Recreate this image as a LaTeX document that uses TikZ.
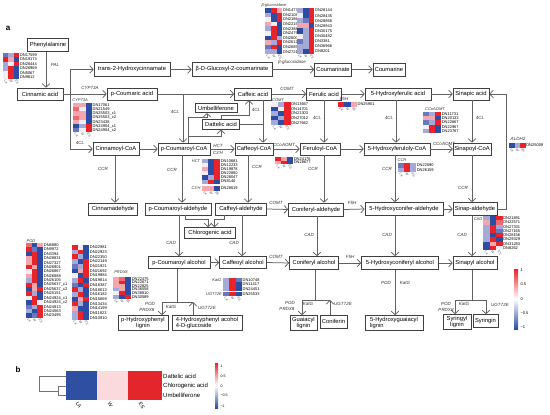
\documentclass[tikz,border=0pt]{standalone}
\usepackage{fontspec}
\setmainfont{Liberation Sans}
\usetikzlibrary{arrows.meta}
\definecolor{hR}{HTML}{E8232A}
\definecolor{hm}{HTML}{EC6A70}
\definecolor{hr}{HTML}{F3A7AC}
\definecolor{hw}{HTML}{F2EEF4}
\definecolor{hb}{HTML}{A3AAD8}
\definecolor{hn}{HTML}{6A78BF}
\definecolor{hB}{HTML}{2D4CA3}
\definecolor{bLA}{HTML}{2F4FA2}
\definecolor{bW}{HTML}{FADADD}
\definecolor{bES}{HTML}{E3262B}
\newcommand\hmap[6]{%
  \foreach [count=\i] \hA/\hBB/\hC/\hL in {#6} {%
    \fill[fill=h\hA] ({#2},{#3+(\i-1)*#5}) rectangle ++(#4,#5);
    \fill[fill=h\hBB] ({#2+#4},{#3+(\i-1)*#5}) rectangle ++(#4,#5);
    \fill[fill=h\hC] ({#2+2*#4},{#3+(\i-1)*#5}) rectangle ++(#4,#5);
    \node[dnlab] (#1-\i) at ({#2+3*#4+0.6},{#3+(\i-0.5)*#5}) {\hL};
  }%
}
\newcommand\hcols[4]{%
  \foreach \t [count=\j] in {LA,W,ES} {\node[collab] (#1-\t) at ({#2+(\j-0.5)*#4-0.8},{#3+0.8}) {\t};}%
}
\begin{document}
\begin{tikzpicture}[x=1pt,y=-1pt,
  box/.style={draw=black!75,line width=0.6pt,fill=white,font=\fontsize{5.8}{6.3}\selectfont,inner xsep=1.2pt,inner ysep=1pt,minimum height=12pt},
  arr/.style={draw=black!62,line width=0.75pt,-{Straight Barb[length=3.5pt,width=7.5pt]}},
  ln/.style={draw=black!62,line width=0.75pt},
  enz/.style={font=\fontsize{4.5}{5}\selectfont\itshape,text=black!80,inner sep=0.3pt},
  dnlab/.style={font=\fontsize{4}{4}\selectfont,anchor=west,inner sep=0pt},
  collab/.style={font=\fontsize{3.2}{3.2}\selectfont\itshape,rotate=-60,anchor=west,inner sep=0pt,text=black!70},
  cbl/.style={font=\fontsize{4}{4}\selectfont,anchor=west,inner sep=0.3pt},
]
\useasboundingbox[fill=white] (0,0) rectangle (550,415);
\node[font=\bfseries\fontsize{8}{8}\selectfont] (la) at (8,28) {a};

% ---------- boxes ----------
\node[box,minimum width=41pt,minimum height=13pt] (phe) at (48,45) {Phenylalanine};
\node[box,minimum width=46pt] (cin) at (40,94) {Cinnamic acid};
\node[box,minimum width=76pt,minimum height=14pt] (t2h) at (132,69.5) {trans-2-Hydroxycinnamate};
\node[box,minimum width=80pt,minimum height=14pt] (bdg) at (232,69.5) {β-D-Glucosyl-2-coumarinate};
\node[box,minimum width=37pt,minimum height=13pt] (cmt) at (333,69.5) {Coumarinate};
\node[box,minimum width=32pt,minimum height=13pt] (cmr) at (389,69.5) {Coumarine};

\node[box,minimum width=50pt] (pca) at (132,94) {p-Coumaric acid};
\node[box,minimum width=37pt] (caf) at (253,94) {Caffeic acid};
\node[box,minimum width=35pt] (fer) at (324,94) {Ferulic acid};
\node[box,minimum width=66pt] (hfa) at (398,94) {5-Hydroxyferulic acid};
\node[box,minimum width=36pt] (sia) at (471,94) {Sinapic acid};

\node[box,minimum width=42pt,minimum height=9.5pt] (umb) at (216,108) {Umbelliferone};
\node[box,minimum width=37pt,minimum height=9.5pt] (daf) at (221,124.5) {Dattelic acid};

\node[box,minimum width=46pt,minimum height=13pt] (ccoa) at (116,149) {Cinnamoyl-CoA};
\node[box,minimum width=52pt] (pcoa) at (184,149) {p-Coumaroyl-CoA};
\node[box,minimum width=38pt] (cfcoa) at (254,149) {Caffeoyl-CoA};
\node[box,minimum width=40pt] (frcoa) at (320,149) {Feruloyl-CoA};
\node[box,minimum width=66pt] (hfcoa) at (397,149) {5-Hydroxyferuloly-CoA};
\node[box,minimum width=32pt] (spcoa) at (472,149) {Sinapoyl-CoA};

\node[box,minimum width=49pt] (cald) at (113,209) {Cinnamadehyde};
\node[box,minimum width=66pt] (pcald) at (178,209) {p-Coumaroyl-aldehyde};
\node[box,minimum width=51pt] (cfald) at (241,209) {Caffeyl-aldehyde};
\node[box,minimum width=55pt,minimum height=13pt] (cnald) at (316,209.5) {Coniferyl-aldehyde};
\node[box,minimum width=78pt,minimum height=13pt] (hcald) at (404,209) {5-Hydroxyconifer-aldehyde};
\node[box,minimum width=44pt,minimum height=13pt] (spald) at (475,209) {Sinap-aldehyde};

\node[box,minimum width=51pt,minimum height=11pt] (chl) at (210,233) {Chlorogenic acid};

\node[box,minimum width=62pt] (pcal) at (179,262.5) {p-Coumaroyl alcohol};
\node[box,minimum width=47pt] (cfal) at (243,262.5) {Caffeoyl alcohol};
\node[box,minimum width=49pt,minimum height=13pt] (cnal) at (314,263) {Coniferyl alcohol};
\node[box,minimum width=77pt,minimum height=13pt] (hcal) at (400,263) {5-Hydroxyconiferyl alcohol};
\node[box,minimum width=44pt,minimum height=13pt] (spal) at (475,263) {Sinapyl alcohol};

\node[box,minimum width=50pt,minimum height=15pt,align=center,font=\fontsize{5.8}{5.6}\selectfont] (phl) at (143,323) {p-Hydroxyphenyl\\lignin};
\node[box,minimum width=70pt,minimum height=15pt,align=left,font=\fontsize{5.8}{5.6}\selectfont] (hpg) at (207,323) {4-Hydroxyphenyl acohol\\4-D-glucoside};
\node[box,minimum width=27pt,minimum height=15pt,align=center,font=\fontsize{5.8}{5.6}\selectfont] (gul) at (303.5,323) {Guaiacyl\\lignin};
\node[box,minimum width=27pt,minimum height=13pt] (cnf) at (333.5,321.5) {Coniferin};
\node[box,minimum width=58pt,minimum height=15pt,align=left,font=\fontsize{5.8}{5.6}\selectfont] (hgl) at (394,323) {5-Hydroxyguaiacyl\\lignin};
\node[box,minimum width=28pt,minimum height=15pt,align=center,font=\fontsize{5.8}{5.6}\selectfont] (syl) at (457,322) {Syringyl\\lignin};
\node[box,minimum width=25pt,minimum height=13pt] (syr) at (485.5,321) {Syringin};

% ---------- connectors ----------
\draw[arr] (46,0 |- phe.south) -- (46,0 |- cin.north);
\draw[arr] (cin.east) -- (pca.west);
\coordinate (j1) at (70,0 |- cin.east);
\draw[arr] (j1) |- (t2h.west);
\draw[arr] (j1) |- (ccoa.west);
\draw[arr] (t2h.east) -- (bdg.west);
\draw[arr] (bdg.east) -- (cmt.west);
\draw[arr] (cmt.east) -- (cmr.west);
\draw[arr] (pca.east) -- (caf.west);
\draw[arr] (183,0 |- pca.east) -- (183,0 |- pcoa.north);
\draw[arr] (caf.east) -- (fer.west);
\draw[arr] (fer.east) -- (hfa.west);
\draw[arr] (hfa.east) -- (sia.west);
\draw[arr] (spald.east) -- ++(9,0) |- (sia.east);
% umbelliferone / dattelic acid
\draw[arr] (188,0 |- pcoa.north) |- (207,117) -- (207,0 |- umb.south);
\draw[arr] (188,136) -| (221,0 |- daf.south);
\draw[arr] (221,0 |- daf.north) |- (249,115.5) -- (249,0 |- caf.south);
\draw[ln] (daf.east) -- (263,0 |- daf.east);
% 4CL
\draw[arr] (263,0 |- caf.south) -- (263,0 |- cfcoa.north);
\draw[arr] (324,0 |- fer.south) -- (324,0 |- frcoa.north);
\draw[arr] (396,0 |- hfa.south) -- (396,0 |- hfcoa.north);
\draw[arr] (472,0 |- sia.south) -- (472,0 |- spcoa.north);
% CoA row
\draw[arr] (ccoa.east) -- (pcoa.west);
\draw[arr] (pcoa.east) -- (cfcoa.west);
\draw[arr] (cfcoa.east) -- (frcoa.west);
\draw[arr] (frcoa.east) -- (hfcoa.west);
\draw[arr] (hfcoa.east) -- (spcoa.west);
% CCR
\draw[arr] (115,0 |- ccoa.south) -- (115,0 |- cald.north);
\draw[arr] (182,0 |- pcoa.south) -- (182,0 |- pcald.north);
\draw[arr] (248,0 |- cfcoa.south) -- (248,0 |- cfald.north);
\draw[arr] (324,0 |- frcoa.south) -- (324,0 |- cnald.north);
\draw[arr] (395,0 |- hfcoa.south) -- (395,0 |- hcald.north);
\draw[arr] (472,0 |- spcoa.south) -- (472,0 |- spald.north);
% aldehyde row
\draw[arr] (cfald.east) -- (cnald.west);
\draw[arr] (cnald.east) -- (hcald.west);
\draw[arr] (hcald.east) -- (spald.west);
% chlorogenic acid
\draw[arr] (185,0 |- pcald.south) |- (208,219.5) -- (208,0 |- chl.north);
\draw[arr] (224,0 |- cfald.south) |- (214.5,219.5) -- (214.5,0 |- chl.north);
% CAD
\draw[arr] (179,0 |- pcald.south) -- (179,0 |- pcal.north);
\draw[arr] (242,0 |- cfald.south) -- (242,0 |- cfal.north);
\draw[arr] (317,0 |- cnald.south) -- (317,0 |- cnal.north);
\draw[arr] (395,0 |- hcald.south) -- (395,0 |- hcal.north);
\draw[arr] (472,0 |- spald.south) -- (472,0 |- spal.north);
% alcohol row
\draw[arr] (pcal.east) -- (cfal.west);
\draw[arr] (cfal.east) -- (cnal.west);
\draw[arr] (cnal.east) -- (hcal.west);
\draw[arr] (hcal.east) -- (spal.west);
% bottom
\draw[ln] (177,0 |- pcal.south) -- (177,302);
\draw[arr] (193,302) -| (162,0 |- phl.north);
\draw[arr] (193,0 |- hpg.north) -- (193,302);
\draw[ln] (315,0 |- cnal.south) -- (315,300);
\draw[arr] (330,300) -| (302,0 |- gul.north);
\draw[arr] (330,0 |- cnf.north) -- (330,300);
\draw[arr] (395,0 |- hcal.south) -- (395,0 |- hgl.north);
\draw[ln] (472,0 |- spal.south) -- (472,300);
\draw[arr] (472,300) -| (455,0 |- syl.north);
\draw[arr] (472,300) -| (486,0 |- syr.north);

% ---------- enzyme labels ----------
\node[enz] (e1) at (55,65) {PAL};
\node[enz] (e2) at (90,87.5) {CYP73A};
\node[enz] (e3) at (80,143) {4CL};
\node[enz] (e4) at (292,62) {β-glucosidase};
\node[enz] (e5) at (175,112) {4CL};
\node[enz] (e6) at (256,110) {4CL};
\node[enz] (e7) at (287,88.5) {COMT};
\node[enz] (e8) at (344,99) {F5H};
\node[enz] (e9) at (317,118) {4CL};
\node[enz] (e10) at (389,118) {4CL};
\node[enz] (e11) at (480,118) {4CL};
\node[enz] (e12) at (518,139) {ALDH2};
\node[enz] (e13) at (218,145.5) {HCT};
\node[enz] (e14) at (218,153) {C3'H};
\node[enz] (e15) at (284,145) {CCoAOMT};
\node[enz] (e16) at (444,144) {CCoAOMT};
\node[enz] (e17) at (103,169) {CCR};
\node[enz] (e18) at (172,170) {CCR};
\node[enz] (e19) at (257,167) {CCR};
\node[enz] (e20) at (313,169) {CCR};
\node[enz] (e21) at (387,169) {CCR};
\node[enz] (e22) at (463,188) {CCR};
\node[enz] (e23) at (276,202.5) {COMT};
\node[enz] (e24) at (352,202.5) {F5H};
\node[enz] (e25) at (171,243) {CAD};
\node[enz] (e26) at (234,243) {CAD};
\node[enz] (e27) at (309,235) {CAD};
\node[enz] (e28) at (387,235) {CAD};
\node[enz] (e29) at (462,235) {CAD};
\node[enz] (e30) at (276,257) {COMT};
\node[enz] (e31) at (350,256.5) {F5H};
\node[enz] (e32) at (150,304) {POD};
\node[enz] (e33) at (147,309.5) {PRDX8};
\node[enz] (e34) at (171,306.5) {KatG};
\node[enz] (e35) at (207,308) {UGT72E};
\node[enz] (e36) at (290,303) {POD};
\node[enz] (e37) at (287,308.5) {PRDX8};
\node[enz] (e38) at (308,304) {KatG};
\node[enz] (e39) at (343,304) {UGT72E};
\node[enz] (e40) at (386,283) {POD};
\node[enz] (e41) at (405,283) {KatG};
\node[enz] (e42) at (446,304) {POD};
\node[enz] (e43) at (446,309.5) {PRDX8};
\node[enz] (e44) at (464,304) {KatG};
\node[enz] (e45) at (500,305) {UGT72E};

% heatmap titles
\node[enz,font=\fontsize{4}{4}\selectfont\itshape] (t1) at (274,5) {β-glucosidase};
\node[enz,font=\fontsize{4}{4}\selectfont\itshape] (t2) at (80,100.5) {CYP73A};
\node[enz,font=\fontsize{4}{4}\selectfont\itshape] (t3) at (278,100) {COMT};
\node[enz,font=\fontsize{4}{4}\selectfont\itshape] (t4) at (435,109.5) {CCoAOMT};
\node[enz,font=\fontsize{4}{4}\selectfont\itshape] (t5) at (196,161) {HCT};
\node[enz,font=\fontsize{4}{4}\selectfont\itshape] (t6) at (196,188.5) {C3'H};
\node[enz,font=\fontsize{4}{4}\selectfont\itshape] (t7) at (402,160.5) {CCR};
\node[enz,font=\fontsize{4}{4}\selectfont\itshape] (t8) at (478,219) {CAD};
\node[enz,font=\fontsize{4}{4}\selectfont\itshape] (t9) at (217,280) {KatG};
\node[enz,font=\fontsize{4}{4}\selectfont\itshape] (t10) at (214,294.5) {UGT72E};
\node[enz,font=\fontsize{4}{4}\selectfont\itshape] (t11) at (121,272) {PRDX8};
\node[enz,font=\fontsize{4}{4}\selectfont\itshape] (t12) at (31,241) {POD};

% ---------- heatmaps ----------
\hmap{pal}{3}{53}{5.4}{4.4}{n/b/R/DN17599, R/r/B/DN19173, b/w/R/DN26444, b/R/B/DN26969, w/R/B/DN5067, w/R/B/DN9612}
\hcols{palc}{3}{79.4}{5.4}
\hmap{cyp}{73}{103}{6.3}{4.2}{r/r/B/DN17061, m/w/B/DN21549, r/r/B/DN25503\_c1, m/r/B/DN25503\_c2, r/w/B/DN23438, B/b/R/DN24904\_c1, n/w/R/DN24904\_c2}
\hcols{cypc}{73}{132.4}{6.3}
\hmap{bg1}{265}{8}{5.8}{4.6}{B/R/r/DN1477, b/B/R/DN21087, w/B/R/DN21867, r/w/B/DN22155, b/R/B/DN23881, w/R/B/DN24792, B/R/b/DN26008, r/b/R/DN26120, n/R/B/DN26851, b/b/B/DN27214}
\hcols{bg1c}{265}{54}{5.8}
\hmap{bg2}{297}{8}{5.8}{5.1}{b/B/R/DN28144, w/B/R/DN28435, b/n/R/DN28866, r/r/B/DN28943, B/b/R/DN30175, w/b/R/DN30482, n/b/R/DN3381, b/b/R/DN36966, b/B/R/DN9201}
\hcols{bg2c}{297}{53.9}{5.8}
\hmap{f5h}{338}{102}{6.3}{4.5}{R/B/r/DN25901}
\hcols{f5hc}{338}{106.5}{6.3}
\hmap{comt}{271}{102}{6.5}{4.6}{w/b/R/DN13667, B/w/R/DN14701, b/B/R/DN21303, B/b/R/DN27012, b/B/R/DN27662}
\hcols{comtc}{271}{125}{6.5}
\hmap{ccr}{423}{112}{6}{4.2}{n/b/R/DN11731, r/r/B/DN20133, n/b/R/DN22667, w/R/B/DN22967, b/R/B/DN23767}
\hmap{hct}{202}{159}{6}{4.1}{b/B/R/DN10681, w/B/R/DN12233, r/B/R/DN19878, w/B/R/DN22850, B/b/R/DN28047, b/R/B/DN8140}
\hmap{c3h}{202}{186}{6}{4.5}{r/r/B/DN28619}
\hcols{c3hc}{202}{190.5}{6}
\hmap{cco}{275}{157}{6}{3.6}{R/r/B/DN24176, r/R/B/DN28677}
\hcols{ccoc}{275}{164.2}{6}
\hmap{ccrh}{398}{163}{6}{4.5}{n/R/b/DN22090, b/R/b/DN26159}
\hcols{ccrhc}{398}{172}{6}
\hmap{aldh}{509}{143}{5.5}{4.5}{B/b/R/DN25009}
\hcols{aldhc}{509}{147.5}{5.5}
\hmap{cad}{483}{216}{6.5}{4.25}{b/B/R/DN21891, r/B/m/DN22571, b/R/b/DN27331, b/R/n/DN27165, b/B/R/DN28156, b/R/B/DN29329, B/r/R/DN31283, B/R/w/DN8262}
\hcols{cadc}{483}{250}{6.5}
\hmap{katg}{223}{278}{6.3}{4.3}{b/R/n/DN10748, b/R/B/DN11417, b/R/B/DN24451}
\hmap{ugt}{223}{292}{6.3}{4.3}{n/R/B/DN25533}
\hcols{ugtc}{223}{296.3}{6.3}
\hmap{prdx}{113}{277}{6}{3.6}{r/m/B/DN22475, r/R/B/DN22671, r/r/B/DN22825, b/r/B/DN36558, w/R/B/DN38810, b/B/R/DN30589}
\hcols{prdxc}{113}{298.6}{6}
\hmap{pod1}{26}{243}{5.7}{4.4}{m/B/r/DN6880, R/n/B/DN9972, B/R/B/DN3394, r/R/B/DN28831, r/R/B/DN27327, R/r/B/DN26901, w/R/B/DN26867, r/R/B/DN26888, b/R/B/DN26105, R/r/B/DN25637\_c1, B/r/R/DN25637\_c2, R/b/B/DN25151, w/R/B/DN24924\_c1, B/R/w/DN24924\_c2, n/b/R/DN24813, b/B/R/DN24563, B/n/R/DN23495}
\hcols{pod1c}{26}{317.8}{5.7}
\hmap{pod2}{72}{245}{5.7}{4.7}{R/w/B/DN22981, b/R/B/DN22923, R/b/B/DN22350, b/B/R/DN22149, n/b/R/DN21921, B/r/R/DN21692, w/B/R/DN19884, b/R/B/DN19814, n/B/R/DN18387, R/b/B/DN18013, b/R/B/DN16182, B/r/R/DN15669, R/b/B/DN13434, r/B/B/DN14199, b/R/B/DN11823, b/R/B/DN10910}
\hcols{pod2c}{72}{320.2}{5.7}

% colour bar a
\shade[top color=hR,bottom color=white] (514,269) rectangle (518,299);
\shade[top color=white,bottom color=hB] (514,299) rectangle (518,329);
\node[cbl] (ca1) at (520,270) {1};
\node[cbl] (ca2) at (520,284.5) {0.5};
\node[cbl] (ca3) at (520,299) {0};
\node[cbl] (ca4) at (520,313.5) {−0.5};
\node[cbl] (ca5) at (520,327.5) {−1};

% ---------- part b ----------
\node[font=\bfseries\fontsize{8}{8}\selectfont] (lbb) at (18,370) {b};
\fill[bLA] (66,371) rectangle (97,400);
\fill[bW] (97,371) rectangle (128,400);
\fill[bES] (128,371) rectangle (162,400);
\node[font=\fontsize{6}{6}\selectfont,anchor=west,inner sep=0.5pt] (r1) at (162.5,376) {Dattelic acid};
\node[font=\fontsize{6}{6}\selectfont,anchor=west,inner sep=0.5pt] (r2) at (162.5,386) {Chlorogenic acid};
\node[font=\fontsize{6}{6}\selectfont,anchor=west,inner sep=0.5pt] (r3) at (162.5,395.5) {Umbelliferone};
\node[font=\fontsize{5}{5}\selectfont,rotate=-60,anchor=west,inner sep=0pt] (c1) at (77,402.5) {LA};
\node[font=\fontsize{5}{5}\selectfont,rotate=-60,anchor=west,inner sep=0pt] (c2) at (109,402.5) {W};
\node[font=\fontsize{5}{5}\selectfont,rotate=-60,anchor=west,inner sep=0pt] (c3) at (140,402.5) {ES};
\draw[black!55,line width=0.5pt] (66,376) -- (39,376) -- (39,391) -- (58,391);
\draw[black!55,line width=0.5pt] (66,386) -- (58,386) -- (58,395.5) -- (66,395.5);
\shade[top color=hR,bottom color=white] (215,363) rectangle (218,385.5);
\shade[top color=white,bottom color=hB] (215,385.5) rectangle (218,408);
\node[cbl,font=\fontsize{3.6}{3.6}\selectfont] (cb1) at (220,366) {1};
\node[cbl,font=\fontsize{3.6}{3.6}\selectfont] (cb2) at (220,376) {0.5};
\node[cbl,font=\fontsize{3.6}{3.6}\selectfont] (cb3) at (220,386) {0};
\node[cbl,font=\fontsize{3.6}{3.6}\selectfont] (cb4) at (220,395.5) {−0.5};
\node[cbl,font=\fontsize{3.6}{3.6}\selectfont] (cb5) at (220,406) {−1};
\end{tikzpicture}
\end{document}
